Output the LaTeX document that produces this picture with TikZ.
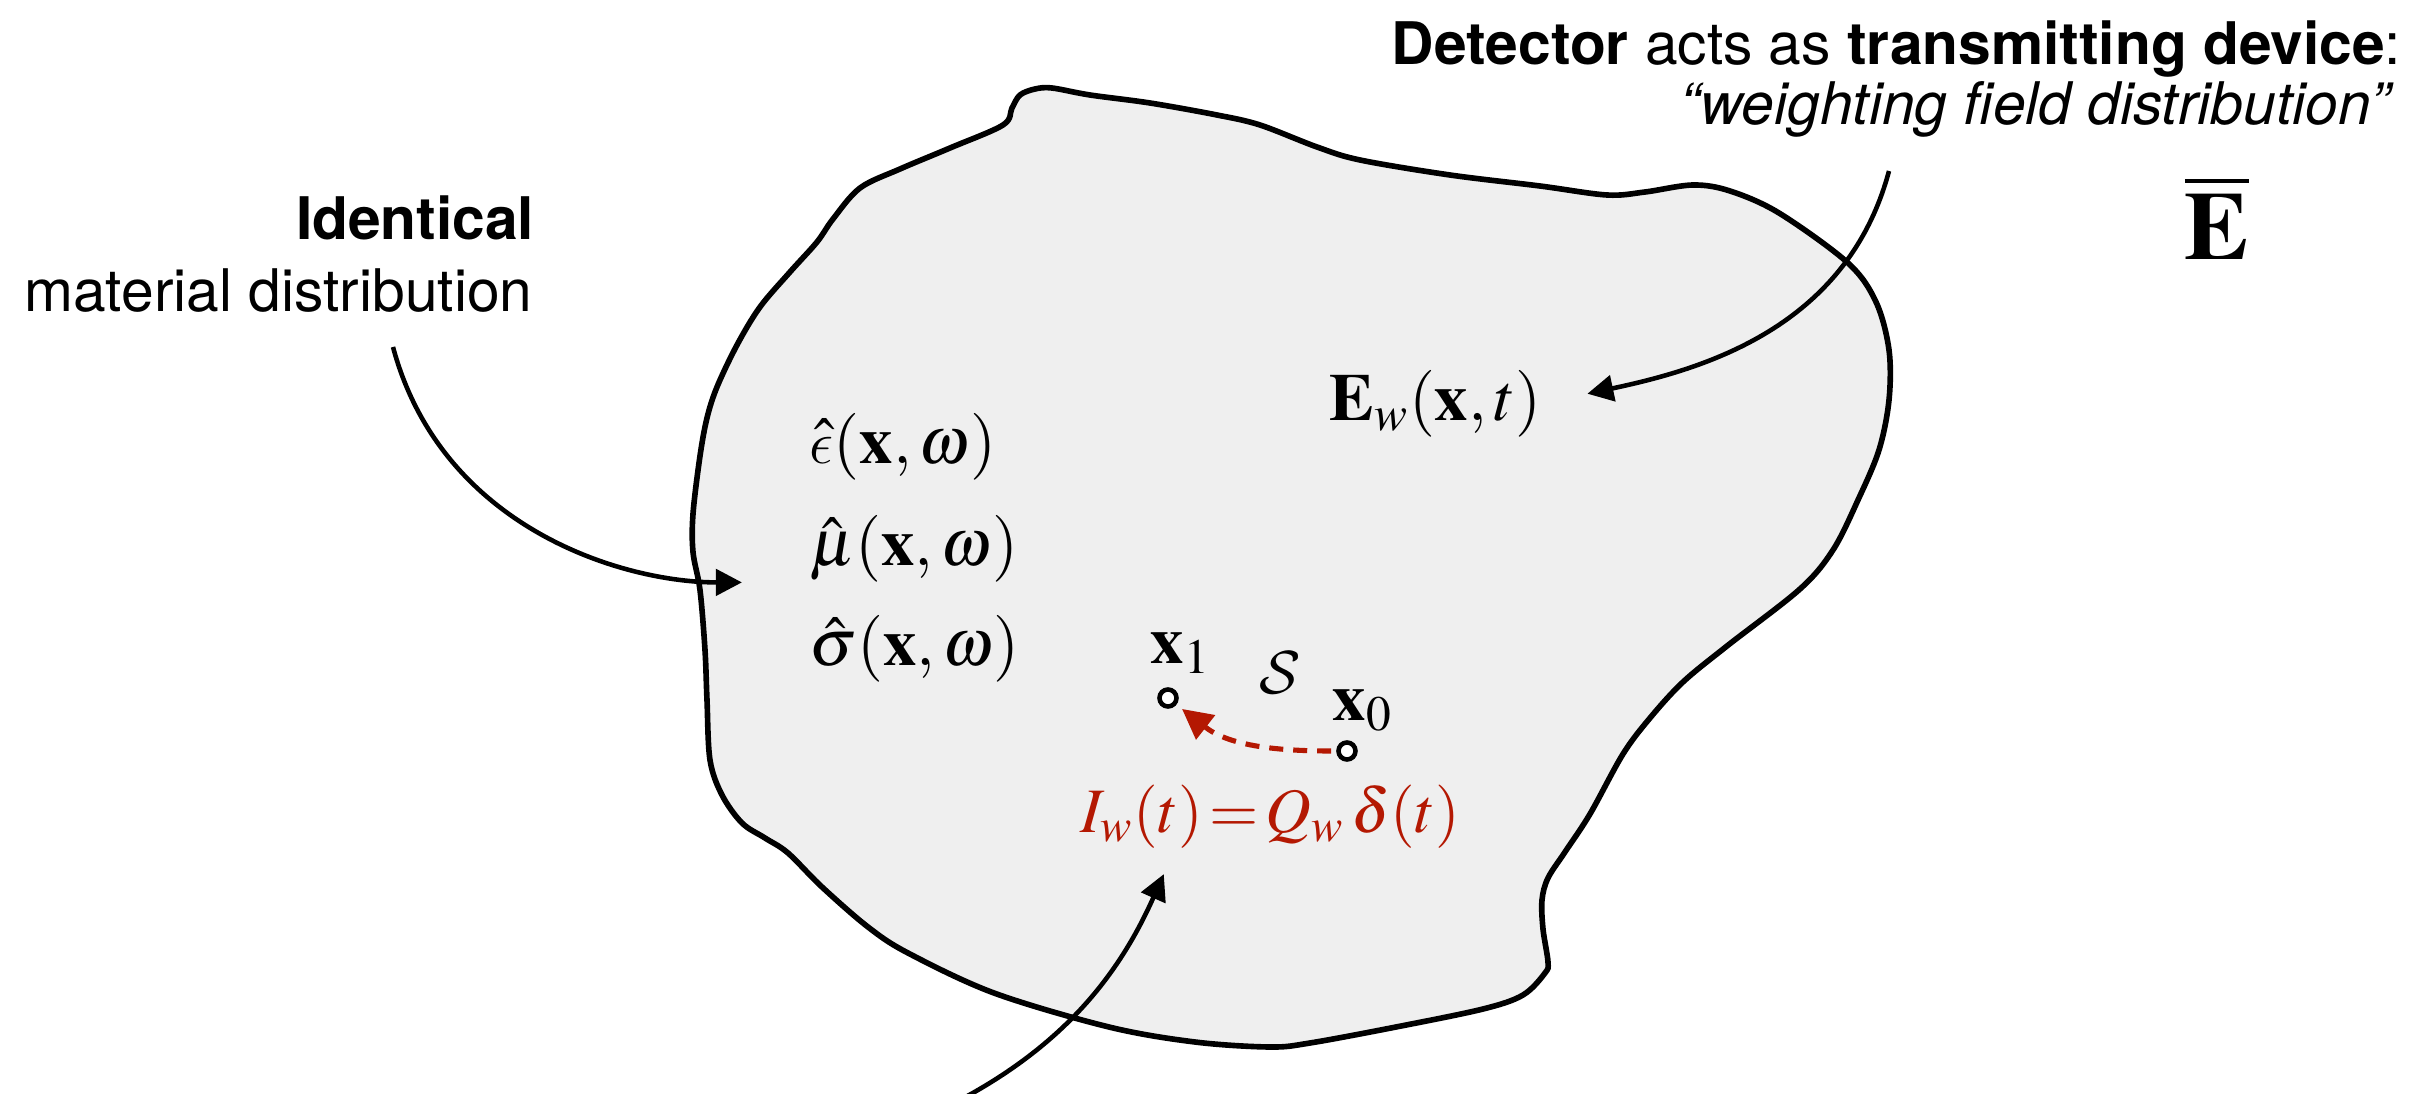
\documentclass[tikz,border=0pt]{standalone}
\IfFileExists{mathptmx.sty}{\usepackage{mathptmx}}{}
\usepackage[no-math]{fontspec}
\setmainfont{TeX Gyre Heros}
\usepackage{xcolor}
\usetikzlibrary{arrows.meta, positioning, calc}
\DeclareSymbolFont{cmletters}{OML}{cmm}{m}{it}
\DeclareMathSymbol{\lunateps}{\mathord}{cmletters}{"0F}
\DeclareMathAlphabet{\mathcmcal}{OMS}{cmsy}{m}{n}
\definecolor{fieldRed}{RGB}{180,24,2}
\definecolor{regionGray}{RGB}{239,239,239}

\begin{document}
\begin{tikzpicture}[x=0.01cm, y=0.01cm,
    txt/.style={inner sep=0, font=\fontsize{16.7}{20}\selectfont},
    mth/.style={inner sep=0, font=\fontsize{19}{23}\selectfont},
    arr/.style={line width=1.3pt, -{Triangle[length=0.26cm, width=0.26cm]}},
    flowarr/.style={fieldRed, line width=1.45pt, dash pattern=on 0.14cm off 0.1cm,
      -{Triangle[length=0.3cm, width=0.3cm]}, shorten <=0.05cm, shorten >=0.07cm},
    posdot/.style={circle, draw, line width=1.3pt, fill=white, minimum size=0.17cm, inner sep=0}]
    \useasboundingbox (0,0) rectangle (2435,-1094);

    % the region
    \draw[line width=1.6pt, fill=regionGray] plot[smooth cycle, tension=0.55] coordinates {
      (950,-148) (1003,-125) (1012,-108) (1020,-95) (1035,-89) (1052,-88) (1090,-95)
      (1150,-103) (1217,-115) (1260,-125) (1317,-147) (1360,-160) (1450,-175) (1540,-186)
      (1607,-195) (1645,-192) (1693,-185) (1730,-191) (1779,-213) (1848,-263) (1876,-302)
      (1889,-350) (1889,-400) (1879,-450) (1858,-500) (1833,-550) (1800,-589) (1727,-646)
      (1683,-682) (1650,-718) (1623,-754) (1590,-814) (1565,-852) (1548,-878) (1542,-900)
      (1543,-929) (1548,-962) (1545,-973) (1523,-995) (1483,-1009) (1396,-1027) (1310,-1043)
      (1270,-1047) (1195,-1042) (1109,-1027) (994,-993) (908,-953) (868,-927) (822,-887)
      (788,-853) (765,-838) (742,-823) (722,-795) (710,-760) (707,-700) (705,-650)
      (700,-590) (693,-552) (693,-514) (700,-456) (707,-418) (717,-387) (737,-345)
      (760,-307) (790,-272) (817,-242) (833,-219) (860,-188) (900,-169)};

    % labels outside
    \node[txt, anchor=base east] (detect) at (2402,-65) {\textbf{Detector} acts as \textbf{transmitting device}:};
    \node[txt, anchor=base east] (weight) at (2391,-125) {\itshape “weighting field distribution”};
    \node[inner sep=0, font=\fontsize{27.5}{30}\selectfont, anchor=base] (ebar) at (2217,-260) {$\overline{\mathbf{E}}$};
    \node[txt, anchor=base east] (ident) at (535,-240) {\textbf{Identical}};
    \node[txt, anchor=base east] (matdist) at (533,-312) {material distribution};

    % inside the region
    \node[mth, anchor=base west] (eps) at (809,-464) {$\hat{\lunateps}(\mathbf{x},\omega)$};
    \node[mth, anchor=base west] (mu) at (809,-565) {$\hat{\mu}(\mathbf{x},\omega)$};
    \node[mth, anchor=base west] (sig) at (809,-665) {$\hat{\sigma}(\mathbf{x},\omega)$};
    \node[mth, anchor=base west] (ew) at (1329,-420) {$\mathbf{E}_w(\mathbf{x},t)$};
    \node[mth, font=\fontsize{18}{22}\selectfont, anchor=base west, text=fieldRed] (curr) at (1080,-832)
      {$I_w(t)\mkern2mu{=}\mkern2mu Q_w\,\delta(t)$};
    \node[mth, anchor=base west] (lx1) at (1150,-663) {$\mathbf{x}_1$};
    \node[mth, anchor=base west] (lx0) at (1332,-720) {$\mathbf{x}_0$};
    \node[mth, anchor=base] (surf) at (1280,-693) {$\mathcmcal{S}$};
    \node[posdot] (x1) at (1168,-698) {};
    \node[posdot] (x0) at (1347,-751) {};

    % arrows
    \coordinate (matsrc) at (393,-347);
    \coordinate (wsrc) at (1889,-171);
    \coordinate (isrc) at (930,-1115);
    \draw[arr, shorten >=0.67cm] (matsrc) to[out=-75, in=180] (mu.south west);
    \draw[arr, shorten >=0.46cm] (wsrc) to[out=-105, in=12] (ew.east);
    \draw[arr, shorten >=0.28cm] (isrc) to[out=25, in=-114] ($(curr.south west)!0.25!(curr.south east)$);
    \draw[flowarr] (x0) to[out=180, in=-38] (x1);
\end{tikzpicture}
\end{document}
